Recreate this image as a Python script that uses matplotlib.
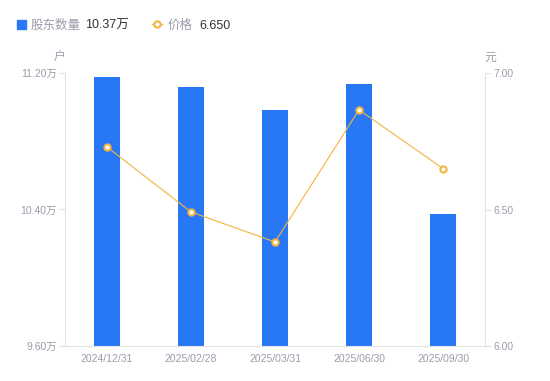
import matplotlib.pyplot as plt
import numpy as np

plt.rcParams['font.family'] = ['Liberation Sans', 'Noto Sans CJK SC', 'DejaVu Sans']

dates = ['2024/12/31', '2025/02/28', '2025/03/31', '2025/06/30', '2025/09/30']
holders = [11.177, 11.118, 10.983, 11.136, 10.374]   # 万户
price = [6.729, 6.491, 6.381, 6.865, 6.650]          # 元

left_ticks = [9.60, 10.40, 11.20]
right_ticks = [6.00, 6.50, 7.00]

blue = '#2878f5'
orange = '#f5b340'
grey = '#9b9cab'
axis_c = '#e3e3e6'

fig = plt.figure(figsize=(5.5, 3.81), dpi=100)
ax = fig.add_axes([65/550, 35/381, 420/550, 273/381])
x = np.arange(len(dates))

ax.bar(x, holders, width=0.3, color=blue, zorder=2)
ax.set_ylim(9.6, 11.2)
ax.set_xlim(-0.5, len(dates) - 0.5)
ax.set_yticks(left_ticks)
ax.set_yticklabels([f'{v:.2f}万' for v in left_ticks])
ax.set_xticks(x)
ax.set_xticklabels(dates)

ax2 = ax.twinx()
ax2.plot(x, price, color=orange, lw=0.8, marker='o', ms=4.5,
         mfc='white', mec=orange, mew=1.5, zorder=3)
ax2.set_ylim(6.0, 7.0)
ax2.set_yticks(right_ticks)
ax2.set_yticklabels([f'{v:.2f}' for v in right_ticks])

for a in (ax, ax2):
    for s in a.spines.values():
        s.set_visible(False)
    a.tick_params(colors=grey, labelsize=7.5, length=4, width=0.8, color=axis_c)
ax.spines['left'].set_visible(True)
ax.spines['left'].set_color(axis_c)
ax.spines['bottom'].set_visible(True)
ax.spines['bottom'].set_color(axis_c)
ax2.spines['right'].set_visible(True)
ax2.spines['right'].set_color(axis_c)
ax.tick_params(axis='x', length=0, pad=6)
ax.tick_params(axis='y', pad=2)
ax2.tick_params(axis='y', pad=2)

fig.text(59/550, 1 - 58/381, '户', color=grey, fontsize=8.5, ha='center', va='center')
fig.text(490/550, 1 - 58/381, '元', color=grey, fontsize=8.5, ha='center', va='center')

# legend
ly = 1 - 24/381
fig.patches.append(plt.Rectangle((17/550, ly - 4.5/381), 9/550, 9/381,
                                 transform=fig.transFigure, color=blue, figure=fig))
ty = 1 - 26/381
fig.text(31/550, ty, '股东数量', color=grey, fontsize=9, va='center')
fig.text(85/550, ty, '10.37万', color='#333333', fontsize=9, va='center')
fig.lines.append(plt.Line2D([152/550, 162/550], [ly, ly], transform=fig.transFigure,
                            color=orange, lw=1))
fig.lines.append(plt.Line2D([157/550], [ly], transform=fig.transFigure,
                            color=orange, marker='o', ms=4.5, mfc='white', mew=1.5))
fig.text(168/550, ty, '价格', color=grey, fontsize=9, va='center')
fig.text(199/550, ty, '6.650', color='#333333', fontsize=9, va='center')

plt.savefig('out.png')
